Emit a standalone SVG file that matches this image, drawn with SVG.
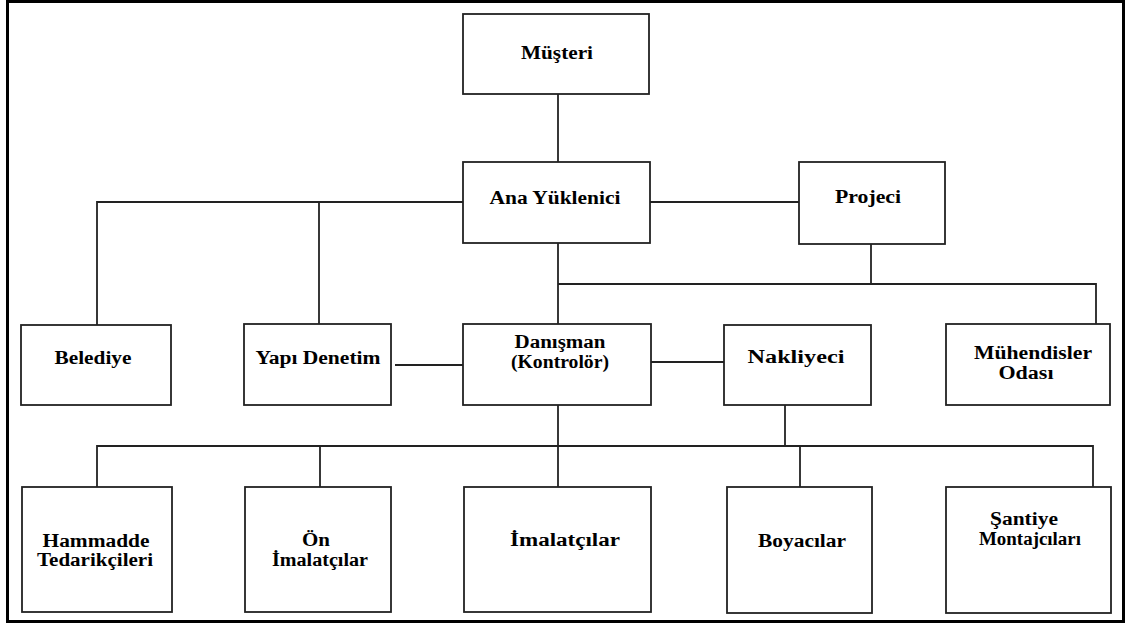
<svg xmlns="http://www.w3.org/2000/svg" width="1132" height="625" viewBox="0 0 1132 625">
<style>
.box{fill:#fff;stroke:#222;stroke-width:1.8}
.ln{fill:none;stroke:#222;stroke-width:1.8}
text{font-family:"Liberation Serif","Times New Roman",serif;font-weight:bold;font-size:18.5px;fill:#000;text-anchor:middle}
</style>
<rect x="0" y="0" width="1132" height="625" fill="#fff"/>
<rect x="7.5" y="1.5" width="1116" height="620" fill="none" stroke="#000" stroke-width="3"/>
<g id="connectors" class="ln">
<line x1="558" y1="94" x2="558" y2="162"/>
<polyline points="97,325 97,202 463,202"/>
<line x1="319" y1="202" x2="319" y2="324"/>
<line x1="650" y1="202" x2="799" y2="202"/>
<line x1="558" y1="243" x2="558" y2="324"/>
<line x1="871" y1="244" x2="871" y2="284"/>
<polyline points="558,284 1096,284 1096,324"/>
<line x1="395" y1="365" x2="463" y2="365"/>
<line x1="651" y1="362" x2="724" y2="362"/>
<line x1="558" y1="405" x2="558" y2="487"/>
<line x1="785" y1="405" x2="785" y2="446"/>
<polyline points="97,487 97,446 1093,446 1093,487"/>
<line x1="320" y1="446" x2="320" y2="487"/>
<line x1="800" y1="446" x2="800" y2="487"/>
</g>
<g id="musteri"><rect class="box" x="463" y="14" width="186" height="80"/><text x="557" y="59" textLength="72" lengthAdjust="spacingAndGlyphs">Müşteri</text></g>
<g id="ana-yuklenici"><rect class="box" x="463" y="162" width="187" height="81"/><text x="555" y="204" textLength="131" lengthAdjust="spacingAndGlyphs">Ana Yüklenici</text></g>
<g id="projeci"><rect class="box" x="799" y="162" width="146" height="82"/><text x="868" y="203" textLength="66" lengthAdjust="spacingAndGlyphs">Projeci</text></g>
<g id="belediye"><rect class="box" x="21" y="325" width="150" height="80"/><text x="93" y="364" textLength="77" lengthAdjust="spacingAndGlyphs">Belediye</text></g>
<g id="yapi-denetim"><rect class="box" x="244" y="324" width="147" height="81"/><text x="318" y="364" textLength="125" lengthAdjust="spacingAndGlyphs">Yapı Denetim</text></g>
<g id="danisman"><rect class="box" x="463" y="324" width="188" height="81"/><text x="560" y="348" textLength="91" lengthAdjust="spacingAndGlyphs">Danışman</text><text x="560" y="368" textLength="98" lengthAdjust="spacingAndGlyphs">(Kontrolör)</text></g>
<g id="nakliyeci"><rect class="box" x="724" y="325" width="147" height="80"/><text x="796" y="363" textLength="97" lengthAdjust="spacingAndGlyphs">Nakliyeci</text></g>
<g id="muhendisler-odasi"><rect class="box" x="946" y="324" width="164" height="81"/><text x="1033" y="359" textLength="118" lengthAdjust="spacingAndGlyphs">Mühendisler</text><text x="1026" y="379" textLength="55" lengthAdjust="spacingAndGlyphs">Odası</text></g>
<g id="hammadde"><rect class="box" x="22" y="487" width="150" height="125"/><text x="96" y="547" textLength="107" lengthAdjust="spacingAndGlyphs">Hammadde</text><text x="95" y="566" textLength="116" lengthAdjust="spacingAndGlyphs">Tedarikçileri</text></g>
<g id="on-imalatcilar"><rect class="box" x="245" y="487" width="146" height="125"/><text x="316" y="546" textLength="28" lengthAdjust="spacingAndGlyphs">Ön</text><text x="320" y="566" textLength="96" lengthAdjust="spacingAndGlyphs">İmalatçılar</text></g>
<g id="imalatcilar"><rect class="box" x="464" y="487" width="187" height="125"/><text x="565" y="546" textLength="110" lengthAdjust="spacingAndGlyphs">İmalatçılar</text></g>
<g id="boyacilar"><rect class="box" x="727" y="487" width="145" height="126"/><text x="802" y="547" textLength="88" lengthAdjust="spacingAndGlyphs">Boyacılar</text></g>
<g id="santiye-montajcilari"><rect class="box" x="946" y="487" width="165" height="126"/><text x="1024" y="525" textLength="68" lengthAdjust="spacingAndGlyphs">Şantiye</text><text x="1030" y="545" textLength="102" lengthAdjust="spacingAndGlyphs">Montajcıları</text></g>
</svg>
